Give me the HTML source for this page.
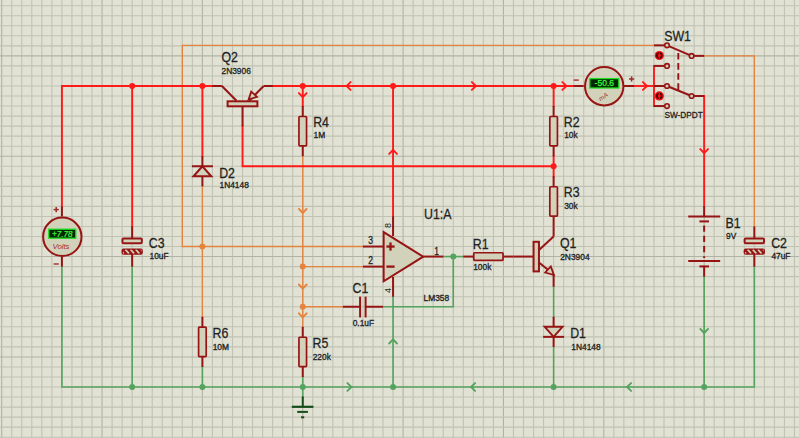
<!DOCTYPE html>
<html><head><meta charset="utf-8"><style>
html,body{margin:0;padding:0;background:#e1e2d4;overflow:hidden;}
svg{display:block;}
</style></head><body>
<svg width="799" height="438" viewBox="0 0 799 438">
<rect width="799" height="438" fill="#e1e2d4"/>
<line x1="1.7" y1="0" x2="1.7" y2="438" stroke="#b0b3a3" stroke-width="1.1"/>
<line x1="11.73" y1="0" x2="11.73" y2="438" stroke="#c0c2b4" stroke-width="1.1"/>
<line x1="21.77" y1="0" x2="21.77" y2="438" stroke="#c0c2b4" stroke-width="1.1"/>
<line x1="31.8" y1="0" x2="31.8" y2="438" stroke="#c0c2b4" stroke-width="1.1"/>
<line x1="41.84" y1="0" x2="41.84" y2="438" stroke="#c0c2b4" stroke-width="1.1"/>
<line x1="51.88" y1="0" x2="51.88" y2="438" stroke="#c0c2b4" stroke-width="1.1"/>
<line x1="61.91" y1="0" x2="61.91" y2="438" stroke="#c0c2b4" stroke-width="1.1"/>
<line x1="71.95" y1="0" x2="71.95" y2="438" stroke="#c0c2b4" stroke-width="1.1"/>
<line x1="81.98" y1="0" x2="81.98" y2="438" stroke="#c0c2b4" stroke-width="1.1"/>
<line x1="92.02" y1="0" x2="92.02" y2="438" stroke="#c0c2b4" stroke-width="1.1"/>
<line x1="102.05" y1="0" x2="102.05" y2="438" stroke="#b0b3a3" stroke-width="1.1"/>
<line x1="112.09" y1="0" x2="112.09" y2="438" stroke="#c0c2b4" stroke-width="1.1"/>
<line x1="122.12" y1="0" x2="122.12" y2="438" stroke="#c0c2b4" stroke-width="1.1"/>
<line x1="132.16" y1="0" x2="132.16" y2="438" stroke="#c0c2b4" stroke-width="1.1"/>
<line x1="142.19" y1="0" x2="142.19" y2="438" stroke="#c0c2b4" stroke-width="1.1"/>
<line x1="152.22" y1="0" x2="152.22" y2="438" stroke="#c0c2b4" stroke-width="1.1"/>
<line x1="162.26" y1="0" x2="162.26" y2="438" stroke="#c0c2b4" stroke-width="1.1"/>
<line x1="172.29" y1="0" x2="172.29" y2="438" stroke="#c0c2b4" stroke-width="1.1"/>
<line x1="182.33" y1="0" x2="182.33" y2="438" stroke="#c0c2b4" stroke-width="1.1"/>
<line x1="192.36" y1="0" x2="192.36" y2="438" stroke="#c0c2b4" stroke-width="1.1"/>
<line x1="202.4" y1="0" x2="202.4" y2="438" stroke="#b0b3a3" stroke-width="1.1"/>
<line x1="212.44" y1="0" x2="212.44" y2="438" stroke="#c0c2b4" stroke-width="1.1"/>
<line x1="222.47" y1="0" x2="222.47" y2="438" stroke="#c0c2b4" stroke-width="1.1"/>
<line x1="232.5" y1="0" x2="232.5" y2="438" stroke="#c0c2b4" stroke-width="1.1"/>
<line x1="242.54" y1="0" x2="242.54" y2="438" stroke="#c0c2b4" stroke-width="1.1"/>
<line x1="252.57" y1="0" x2="252.57" y2="438" stroke="#c0c2b4" stroke-width="1.1"/>
<line x1="262.61" y1="0" x2="262.61" y2="438" stroke="#c0c2b4" stroke-width="1.1"/>
<line x1="272.64" y1="0" x2="272.64" y2="438" stroke="#c0c2b4" stroke-width="1.1"/>
<line x1="282.68" y1="0" x2="282.68" y2="438" stroke="#c0c2b4" stroke-width="1.1"/>
<line x1="292.71" y1="0" x2="292.71" y2="438" stroke="#c0c2b4" stroke-width="1.1"/>
<line x1="302.75" y1="0" x2="302.75" y2="438" stroke="#b0b3a3" stroke-width="1.1"/>
<line x1="312.78" y1="0" x2="312.78" y2="438" stroke="#c0c2b4" stroke-width="1.1"/>
<line x1="322.82" y1="0" x2="322.82" y2="438" stroke="#c0c2b4" stroke-width="1.1"/>
<line x1="332.86" y1="0" x2="332.86" y2="438" stroke="#c0c2b4" stroke-width="1.1"/>
<line x1="342.89" y1="0" x2="342.89" y2="438" stroke="#c0c2b4" stroke-width="1.1"/>
<line x1="352.93" y1="0" x2="352.93" y2="438" stroke="#c0c2b4" stroke-width="1.1"/>
<line x1="362.96" y1="0" x2="362.96" y2="438" stroke="#c0c2b4" stroke-width="1.1"/>
<line x1="373" y1="0" x2="373" y2="438" stroke="#c0c2b4" stroke-width="1.1"/>
<line x1="383.03" y1="0" x2="383.03" y2="438" stroke="#c0c2b4" stroke-width="1.1"/>
<line x1="393.06" y1="0" x2="393.06" y2="438" stroke="#c0c2b4" stroke-width="1.1"/>
<line x1="403.1" y1="0" x2="403.1" y2="438" stroke="#b0b3a3" stroke-width="1.1"/>
<line x1="413.13" y1="0" x2="413.13" y2="438" stroke="#c0c2b4" stroke-width="1.1"/>
<line x1="423.17" y1="0" x2="423.17" y2="438" stroke="#c0c2b4" stroke-width="1.1"/>
<line x1="433.2" y1="0" x2="433.2" y2="438" stroke="#c0c2b4" stroke-width="1.1"/>
<line x1="443.24" y1="0" x2="443.24" y2="438" stroke="#c0c2b4" stroke-width="1.1"/>
<line x1="453.27" y1="0" x2="453.27" y2="438" stroke="#c0c2b4" stroke-width="1.1"/>
<line x1="463.31" y1="0" x2="463.31" y2="438" stroke="#c0c2b4" stroke-width="1.1"/>
<line x1="473.34" y1="0" x2="473.34" y2="438" stroke="#c0c2b4" stroke-width="1.1"/>
<line x1="483.38" y1="0" x2="483.38" y2="438" stroke="#c0c2b4" stroke-width="1.1"/>
<line x1="493.42" y1="0" x2="493.42" y2="438" stroke="#c0c2b4" stroke-width="1.1"/>
<line x1="503.45" y1="0" x2="503.45" y2="438" stroke="#b0b3a3" stroke-width="1.1"/>
<line x1="513.49" y1="0" x2="513.49" y2="438" stroke="#c0c2b4" stroke-width="1.1"/>
<line x1="523.52" y1="0" x2="523.52" y2="438" stroke="#c0c2b4" stroke-width="1.1"/>
<line x1="533.56" y1="0" x2="533.56" y2="438" stroke="#c0c2b4" stroke-width="1.1"/>
<line x1="543.59" y1="0" x2="543.59" y2="438" stroke="#c0c2b4" stroke-width="1.1"/>
<line x1="553.62" y1="0" x2="553.62" y2="438" stroke="#c0c2b4" stroke-width="1.1"/>
<line x1="563.66" y1="0" x2="563.66" y2="438" stroke="#c0c2b4" stroke-width="1.1"/>
<line x1="573.7" y1="0" x2="573.7" y2="438" stroke="#c0c2b4" stroke-width="1.1"/>
<line x1="583.73" y1="0" x2="583.73" y2="438" stroke="#c0c2b4" stroke-width="1.1"/>
<line x1="593.77" y1="0" x2="593.77" y2="438" stroke="#c0c2b4" stroke-width="1.1"/>
<line x1="603.8" y1="0" x2="603.8" y2="438" stroke="#b0b3a3" stroke-width="1.1"/>
<line x1="613.84" y1="0" x2="613.84" y2="438" stroke="#c0c2b4" stroke-width="1.1"/>
<line x1="623.87" y1="0" x2="623.87" y2="438" stroke="#c0c2b4" stroke-width="1.1"/>
<line x1="633.91" y1="0" x2="633.91" y2="438" stroke="#c0c2b4" stroke-width="1.1"/>
<line x1="643.94" y1="0" x2="643.94" y2="438" stroke="#c0c2b4" stroke-width="1.1"/>
<line x1="653.98" y1="0" x2="653.98" y2="438" stroke="#c0c2b4" stroke-width="1.1"/>
<line x1="664.01" y1="0" x2="664.01" y2="438" stroke="#c0c2b4" stroke-width="1.1"/>
<line x1="674.05" y1="0" x2="674.05" y2="438" stroke="#c0c2b4" stroke-width="1.1"/>
<line x1="684.08" y1="0" x2="684.08" y2="438" stroke="#c0c2b4" stroke-width="1.1"/>
<line x1="694.12" y1="0" x2="694.12" y2="438" stroke="#c0c2b4" stroke-width="1.1"/>
<line x1="704.15" y1="0" x2="704.15" y2="438" stroke="#b0b3a3" stroke-width="1.1"/>
<line x1="714.19" y1="0" x2="714.19" y2="438" stroke="#c0c2b4" stroke-width="1.1"/>
<line x1="724.22" y1="0" x2="724.22" y2="438" stroke="#c0c2b4" stroke-width="1.1"/>
<line x1="734.26" y1="0" x2="734.26" y2="438" stroke="#c0c2b4" stroke-width="1.1"/>
<line x1="744.29" y1="0" x2="744.29" y2="438" stroke="#c0c2b4" stroke-width="1.1"/>
<line x1="754.33" y1="0" x2="754.33" y2="438" stroke="#c0c2b4" stroke-width="1.1"/>
<line x1="764.36" y1="0" x2="764.36" y2="438" stroke="#c0c2b4" stroke-width="1.1"/>
<line x1="774.4" y1="0" x2="774.4" y2="438" stroke="#c0c2b4" stroke-width="1.1"/>
<line x1="784.43" y1="0" x2="784.43" y2="438" stroke="#c0c2b4" stroke-width="1.1"/>
<line x1="794.47" y1="0" x2="794.47" y2="438" stroke="#c0c2b4" stroke-width="1.1"/>
<line x1="0" y1="5.7" x2="799" y2="5.7" stroke="#c0c2b4" stroke-width="1.1"/>
<line x1="0" y1="15.73" x2="799" y2="15.73" stroke="#c0c2b4" stroke-width="1.1"/>
<line x1="0" y1="25.77" x2="799" y2="25.77" stroke="#c0c2b4" stroke-width="1.1"/>
<line x1="0" y1="35.8" x2="799" y2="35.8" stroke="#c0c2b4" stroke-width="1.1"/>
<line x1="0" y1="45.84" x2="799" y2="45.84" stroke="#c0c2b4" stroke-width="1.1"/>
<line x1="0" y1="55.88" x2="799" y2="55.88" stroke="#b0b3a3" stroke-width="1.1"/>
<line x1="0" y1="65.91" x2="799" y2="65.91" stroke="#c0c2b4" stroke-width="1.1"/>
<line x1="0" y1="75.95" x2="799" y2="75.95" stroke="#c0c2b4" stroke-width="1.1"/>
<line x1="0" y1="85.98" x2="799" y2="85.98" stroke="#c0c2b4" stroke-width="1.1"/>
<line x1="0" y1="96.02" x2="799" y2="96.02" stroke="#c0c2b4" stroke-width="1.1"/>
<line x1="0" y1="106.05" x2="799" y2="106.05" stroke="#c0c2b4" stroke-width="1.1"/>
<line x1="0" y1="116.09" x2="799" y2="116.09" stroke="#c0c2b4" stroke-width="1.1"/>
<line x1="0" y1="126.12" x2="799" y2="126.12" stroke="#c0c2b4" stroke-width="1.1"/>
<line x1="0" y1="136.16" x2="799" y2="136.16" stroke="#c0c2b4" stroke-width="1.1"/>
<line x1="0" y1="146.19" x2="799" y2="146.19" stroke="#c0c2b4" stroke-width="1.1"/>
<line x1="0" y1="156.22" x2="799" y2="156.22" stroke="#b0b3a3" stroke-width="1.1"/>
<line x1="0" y1="166.26" x2="799" y2="166.26" stroke="#c0c2b4" stroke-width="1.1"/>
<line x1="0" y1="176.29" x2="799" y2="176.29" stroke="#c0c2b4" stroke-width="1.1"/>
<line x1="0" y1="186.33" x2="799" y2="186.33" stroke="#c0c2b4" stroke-width="1.1"/>
<line x1="0" y1="196.36" x2="799" y2="196.36" stroke="#c0c2b4" stroke-width="1.1"/>
<line x1="0" y1="206.4" x2="799" y2="206.4" stroke="#c0c2b4" stroke-width="1.1"/>
<line x1="0" y1="216.44" x2="799" y2="216.44" stroke="#c0c2b4" stroke-width="1.1"/>
<line x1="0" y1="226.47" x2="799" y2="226.47" stroke="#c0c2b4" stroke-width="1.1"/>
<line x1="0" y1="236.5" x2="799" y2="236.5" stroke="#c0c2b4" stroke-width="1.1"/>
<line x1="0" y1="246.54" x2="799" y2="246.54" stroke="#c0c2b4" stroke-width="1.1"/>
<line x1="0" y1="256.57" x2="799" y2="256.57" stroke="#b0b3a3" stroke-width="1.1"/>
<line x1="0" y1="266.61" x2="799" y2="266.61" stroke="#c0c2b4" stroke-width="1.1"/>
<line x1="0" y1="276.64" x2="799" y2="276.64" stroke="#c0c2b4" stroke-width="1.1"/>
<line x1="0" y1="286.68" x2="799" y2="286.68" stroke="#c0c2b4" stroke-width="1.1"/>
<line x1="0" y1="296.71" x2="799" y2="296.71" stroke="#c0c2b4" stroke-width="1.1"/>
<line x1="0" y1="306.75" x2="799" y2="306.75" stroke="#c0c2b4" stroke-width="1.1"/>
<line x1="0" y1="316.78" x2="799" y2="316.78" stroke="#c0c2b4" stroke-width="1.1"/>
<line x1="0" y1="326.82" x2="799" y2="326.82" stroke="#c0c2b4" stroke-width="1.1"/>
<line x1="0" y1="336.86" x2="799" y2="336.86" stroke="#c0c2b4" stroke-width="1.1"/>
<line x1="0" y1="346.89" x2="799" y2="346.89" stroke="#c0c2b4" stroke-width="1.1"/>
<line x1="0" y1="356.93" x2="799" y2="356.93" stroke="#b0b3a3" stroke-width="1.1"/>
<line x1="0" y1="366.96" x2="799" y2="366.96" stroke="#c0c2b4" stroke-width="1.1"/>
<line x1="0" y1="377" x2="799" y2="377" stroke="#c0c2b4" stroke-width="1.1"/>
<line x1="0" y1="387.03" x2="799" y2="387.03" stroke="#c0c2b4" stroke-width="1.1"/>
<line x1="0" y1="397.06" x2="799" y2="397.06" stroke="#c0c2b4" stroke-width="1.1"/>
<line x1="0" y1="407.1" x2="799" y2="407.1" stroke="#c0c2b4" stroke-width="1.1"/>
<line x1="0" y1="417.13" x2="799" y2="417.13" stroke="#c0c2b4" stroke-width="1.1"/>
<line x1="0" y1="427.17" x2="799" y2="427.17" stroke="#c0c2b4" stroke-width="1.1"/>
<line x1="0" y1="437.2" x2="799" y2="437.2" stroke="#c0c2b4" stroke-width="1.1"/>
<polyline points="653.98,45.34 182.33,45.34 182.33,246.54 362.96,246.54" fill="none" stroke="#e3843f" stroke-width="1.35" stroke-linejoin="miter" stroke-linecap="square"/>
<polyline points="202.4,186.33 202.4,316.78" fill="none" stroke="#e3843f" stroke-width="1.35" stroke-linejoin="miter" stroke-linecap="square"/>
<polyline points="302.75,156.22 302.75,326.82" fill="none" stroke="#e3843f" stroke-width="1.35" stroke-linejoin="miter" stroke-linecap="square"/>
<polyline points="302.75,266.61 362.96,266.61" fill="none" stroke="#e3843f" stroke-width="1.35" stroke-linejoin="miter" stroke-linecap="square"/>
<polyline points="302.75,306.75 342.89,306.75" fill="none" stroke="#e3843f" stroke-width="1.35" stroke-linejoin="miter" stroke-linecap="square"/>
<polyline points="704.15,55.88 754.33,55.88 754.33,226.47" fill="none" stroke="#e3843f" stroke-width="1.35" stroke-linejoin="miter" stroke-linecap="square"/>
<polyline points="61.91,266.61 61.91,387.03 754.33,387.03 754.33,266.61" fill="none" stroke="#54a35f" stroke-width="1.6" stroke-linejoin="miter" stroke-linecap="square"/>
<polyline points="132.16,266.61 132.16,387.03" fill="none" stroke="#54a35f" stroke-width="1.6" stroke-linejoin="miter" stroke-linecap="square"/>
<polyline points="202.4,366.96 202.4,387.03" fill="none" stroke="#54a35f" stroke-width="1.6" stroke-linejoin="miter" stroke-linecap="square"/>
<polyline points="302.75,377 302.75,397.06" fill="none" stroke="#54a35f" stroke-width="1.6" stroke-linejoin="miter" stroke-linecap="square"/>
<polyline points="393.06,296.71 393.06,387.03" fill="none" stroke="#54a35f" stroke-width="1.6" stroke-linejoin="miter" stroke-linecap="square"/>
<polyline points="383.03,306.75 453.27,306.75 453.27,256.57" fill="none" stroke="#54a35f" stroke-width="1.6" stroke-linejoin="miter" stroke-linecap="square"/>
<polyline points="443.24,256.57 463.31,256.57" fill="none" stroke="#54a35f" stroke-width="1.6" stroke-linejoin="miter" stroke-linecap="square"/>
<polyline points="553.62,286.68 553.62,316.78" fill="none" stroke="#54a35f" stroke-width="1.6" stroke-linejoin="miter" stroke-linecap="square"/>
<polyline points="553.62,346.89 553.62,387.03" fill="none" stroke="#54a35f" stroke-width="1.6" stroke-linejoin="miter" stroke-linecap="square"/>
<polyline points="704.15,276.64 704.15,387.03" fill="none" stroke="#54a35f" stroke-width="1.6" stroke-linejoin="miter" stroke-linecap="square"/>
<polyline points="61.91,206.4 61.91,85.98 212.44,85.98" fill="none" stroke="#ff1a1a" stroke-width="1.9" stroke-linejoin="miter" stroke-linecap="square"/>
<polyline points="132.16,85.98 132.16,226.47" fill="none" stroke="#ff1a1a" stroke-width="1.9" stroke-linejoin="miter" stroke-linecap="square"/>
<polyline points="202.4,85.98 202.4,156.22" fill="none" stroke="#ff1a1a" stroke-width="1.9" stroke-linejoin="miter" stroke-linecap="square"/>
<polyline points="272.64,85.98 573.7,85.98" fill="none" stroke="#ff1a1a" stroke-width="1.9" stroke-linejoin="miter" stroke-linecap="square"/>
<polyline points="302.75,85.98 302.75,106.05" fill="none" stroke="#ff1a1a" stroke-width="1.9" stroke-linejoin="miter" stroke-linecap="square"/>
<polyline points="393.06,85.98 393.06,216.44" fill="none" stroke="#ff1a1a" stroke-width="1.9" stroke-linejoin="miter" stroke-linecap="square"/>
<polyline points="553.62,85.98 553.62,106.05" fill="none" stroke="#ff1a1a" stroke-width="1.9" stroke-linejoin="miter" stroke-linecap="square"/>
<polyline points="242.54,126.12 242.54,166.26 553.62,166.26" fill="none" stroke="#ff1a1a" stroke-width="1.9" stroke-linejoin="miter" stroke-linecap="square"/>
<polyline points="553.62,156.22 553.62,176.29" fill="none" stroke="#ff1a1a" stroke-width="1.9" stroke-linejoin="miter" stroke-linecap="square"/>
<polyline points="633.91,85.98 653.98,85.98" fill="none" stroke="#ff1a1a" stroke-width="1.9" stroke-linejoin="miter" stroke-linecap="square"/>
<polyline points="653.98,65.91 653.98,106.05" fill="none" stroke="#ff1a1a" stroke-width="1.9" stroke-linejoin="miter" stroke-linecap="square"/>
<polyline points="704.15,96.02 704.15,206.4" fill="none" stroke="#ff1a1a" stroke-width="1.9" stroke-linejoin="miter" stroke-linecap="square"/>
<circle cx="132.16" cy="85.98" r="3.0" fill="#ff1a1a"/>
<circle cx="202.4" cy="85.98" r="3.0" fill="#ff1a1a"/>
<circle cx="302.75" cy="85.98" r="3.0" fill="#ff1a1a"/>
<circle cx="393.06" cy="85.98" r="3.0" fill="#ff1a1a"/>
<circle cx="553.62" cy="85.98" r="3.0" fill="#ff1a1a"/>
<circle cx="553.62" cy="166.26" r="3.0" fill="#ff1a1a"/>
<circle cx="202.4" cy="246.54" r="3.0" fill="#e3843f"/>
<circle cx="302.75" cy="266.61" r="3.0" fill="#e3843f"/>
<circle cx="302.75" cy="306.75" r="3.0" fill="#e3843f"/>
<circle cx="132.16" cy="387.03" r="3.0" fill="#54a35f"/>
<circle cx="202.4" cy="387.03" r="3.0" fill="#54a35f"/>
<circle cx="302.75" cy="387.03" r="3.0" fill="#54a35f"/>
<circle cx="393.06" cy="387.03" r="3.0" fill="#54a35f"/>
<circle cx="553.62" cy="387.03" r="3.0" fill="#54a35f"/>
<circle cx="704.15" cy="387.03" r="3.0" fill="#54a35f"/>
<circle cx="453.27" cy="256.57" r="3.0" fill="#54a35f"/>
<polyline points="350.6,82.09 346.5,85.98 350.6,89.88" fill="none" stroke="#ff1a1a" stroke-width="1.9" stroke-linecap="round"/>
<polyline points="471.9,82.09 476,85.98 471.9,89.88" fill="none" stroke="#ff1a1a" stroke-width="1.9" stroke-linecap="round"/>
<polyline points="562.4,82.09 566.5,85.98 562.4,89.88" fill="none" stroke="#ff1a1a" stroke-width="1.9" stroke-linecap="round"/>
<polyline points="642.9,82.09 647,85.98 642.9,89.88" fill="none" stroke="#ff1a1a" stroke-width="1.9" stroke-linecap="round"/>
<polyline points="298.86,93.1 302.75,97.2 306.64,93.1" fill="none" stroke="#ff1a1a" stroke-width="1.9" stroke-linecap="round"/>
<polyline points="389.17,153.9 393.06,149.8 396.96,153.9" fill="none" stroke="#ff1a1a" stroke-width="1.9" stroke-linecap="round"/>
<polyline points="700.26,149.1 704.15,153.2 708.05,149.1" fill="none" stroke="#ff1a1a" stroke-width="1.9" stroke-linecap="round"/>
<polyline points="298.86,208.9 302.75,213 306.64,208.9" fill="none" stroke="#e3843f" stroke-width="1.9" stroke-linecap="round"/>
<polyline points="298.86,284.5 302.75,288.6 306.64,284.5" fill="none" stroke="#e3843f" stroke-width="1.9" stroke-linecap="round"/>
<polyline points="298.86,313.3 302.75,317.4 306.64,313.3" fill="none" stroke="#e3843f" stroke-width="1.9" stroke-linecap="round"/>
<polyline points="700.26,328.9 704.15,333 708.05,328.9" fill="none" stroke="#54a35f" stroke-width="1.9" stroke-linecap="round"/>
<polyline points="631.1,383.13 627,387.03 631.1,390.92" fill="none" stroke="#54a35f" stroke-width="1.9" stroke-linecap="round"/>
<polyline points="475.1,383.13 471,387.03 475.1,390.92" fill="none" stroke="#54a35f" stroke-width="1.9" stroke-linecap="round"/>
<polyline points="347.4,383.13 351.5,387.03 347.4,390.92" fill="none" stroke="#54a35f" stroke-width="1.9" stroke-linecap="round"/>
<polyline points="389.17,343.5 393.06,339.4 396.96,343.5" fill="none" stroke="#54a35f" stroke-width="1.9" stroke-linecap="round"/>
<line x1="302.75" y1="106.05" x2="302.75" y2="116.09" stroke="#961414" stroke-width="2"/>
<line x1="302.75" y1="146.19" x2="302.75" y2="156.22" stroke="#961414" stroke-width="2"/>
<rect x="298.95" y="116.49" width="7.6" height="29.3" rx="0.8" fill="#d2d2ba" stroke="#961414" stroke-width="1.7"/>
<line x1="553.62" y1="106.05" x2="553.62" y2="116.09" stroke="#961414" stroke-width="2"/>
<line x1="553.62" y1="146.19" x2="553.62" y2="156.22" stroke="#961414" stroke-width="2"/>
<rect x="549.83" y="116.49" width="7.6" height="29.3" rx="0.8" fill="#d2d2ba" stroke="#961414" stroke-width="1.7"/>
<line x1="553.62" y1="176.29" x2="553.62" y2="186.33" stroke="#961414" stroke-width="2"/>
<line x1="553.62" y1="216.44" x2="553.62" y2="226.47" stroke="#961414" stroke-width="2"/>
<rect x="549.83" y="186.73" width="7.6" height="29.31" rx="0.8" fill="#d2d2ba" stroke="#961414" stroke-width="1.7"/>
<line x1="202.4" y1="316.78" x2="202.4" y2="326.82" stroke="#961414" stroke-width="2"/>
<line x1="202.4" y1="356.93" x2="202.4" y2="366.96" stroke="#961414" stroke-width="2"/>
<rect x="198.6" y="327.22" width="7.6" height="29.31" rx="0.8" fill="#d2d2ba" stroke="#961414" stroke-width="1.7"/>
<line x1="302.75" y1="326.82" x2="302.75" y2="336.86" stroke="#961414" stroke-width="2"/>
<line x1="302.75" y1="366.96" x2="302.75" y2="377" stroke="#961414" stroke-width="2"/>
<rect x="298.95" y="337.25" width="7.6" height="29.3" rx="0.8" fill="#d2d2ba" stroke="#961414" stroke-width="1.7"/>
<line x1="463.31" y1="256.57" x2="473.34" y2="256.57" stroke="#961414" stroke-width="2"/>
<line x1="503.45" y1="256.57" x2="513.49" y2="256.57" stroke="#961414" stroke-width="2"/>
<rect x="473.74" y="252.77" width="29.31" height="7.6" rx="0.8" fill="#d2d2ba" stroke="#961414" stroke-width="1.7"/>
<line x1="132.16" y1="226.47" x2="132.16" y2="238.5" stroke="#961414" stroke-width="2"/>
<line x1="132.16" y1="253.5" x2="132.16" y2="266.61" stroke="#961414" stroke-width="2"/>
<rect x="122.45" y="238.4" width="19.4" height="4.8" rx="1.2" fill="#d2d2ba" stroke="#961414" stroke-width="2"/>
<rect x="122.45" y="249.5" width="19.4" height="4.3" rx="1.2" fill="#961414" stroke="#961414" stroke-width="2"/>
<clipPath id="cp13"><rect x="122.95" y="249.6" width="18.4" height="4.1"/></clipPath>
<line x1="120.16" y1="249.4" x2="123.75" y2="253.6" stroke="#d2d2ba" stroke-width="1.7" clip-path="url(#cp13)"/>
<line x1="125.36" y1="249.4" x2="128.96" y2="253.6" stroke="#d2d2ba" stroke-width="1.7" clip-path="url(#cp13)"/>
<line x1="130.56" y1="249.4" x2="134.16" y2="253.6" stroke="#d2d2ba" stroke-width="1.7" clip-path="url(#cp13)"/>
<line x1="135.75" y1="249.4" x2="139.35" y2="253.6" stroke="#d2d2ba" stroke-width="1.7" clip-path="url(#cp13)"/>
<line x1="140.96" y1="249.4" x2="144.56" y2="253.6" stroke="#d2d2ba" stroke-width="1.7" clip-path="url(#cp13)"/>
<line x1="754.33" y1="226.47" x2="754.33" y2="238.5" stroke="#961414" stroke-width="2"/>
<line x1="754.33" y1="253.5" x2="754.33" y2="266.61" stroke="#961414" stroke-width="2"/>
<rect x="744.62" y="238.4" width="19.4" height="4.8" rx="1.2" fill="#d2d2ba" stroke="#961414" stroke-width="2"/>
<rect x="744.62" y="249.5" width="19.4" height="4.3" rx="1.2" fill="#961414" stroke="#961414" stroke-width="2"/>
<clipPath id="cp75"><rect x="745.12" y="249.6" width="18.4" height="4.1"/></clipPath>
<line x1="742.33" y1="249.4" x2="745.93" y2="253.6" stroke="#d2d2ba" stroke-width="1.7" clip-path="url(#cp75)"/>
<line x1="747.53" y1="249.4" x2="751.13" y2="253.6" stroke="#d2d2ba" stroke-width="1.7" clip-path="url(#cp75)"/>
<line x1="752.73" y1="249.4" x2="756.33" y2="253.6" stroke="#d2d2ba" stroke-width="1.7" clip-path="url(#cp75)"/>
<line x1="757.93" y1="249.4" x2="761.53" y2="253.6" stroke="#d2d2ba" stroke-width="1.7" clip-path="url(#cp75)"/>
<line x1="763.12" y1="249.4" x2="766.73" y2="253.6" stroke="#d2d2ba" stroke-width="1.7" clip-path="url(#cp75)"/>
<line x1="342.89" y1="306.75" x2="360.1" y2="306.75" stroke="#961414" stroke-width="2"/>
<line x1="365.6" y1="306.75" x2="383.03" y2="306.75" stroke="#961414" stroke-width="2"/>
<line x1="360.1" y1="296.6" x2="360.1" y2="317.4" stroke="#961414" stroke-width="2"/>
<line x1="365.6" y1="296.6" x2="365.6" y2="317.4" stroke="#961414" stroke-width="2"/>
<line x1="202.4" y1="156.22" x2="202.4" y2="166.26" stroke="#961414" stroke-width="2"/>
<line x1="202.4" y1="176.29" x2="202.4" y2="186.33" stroke="#961414" stroke-width="2"/>
<polygon points="202.4,166.26 193.5,176.29 211.3,176.29" fill="#d2d2ba" stroke="#961414" stroke-width="2" stroke-linejoin="miter"/>
<line x1="191.9" y1="166.26" x2="212.9" y2="166.26" stroke="#961414" stroke-width="2"/>
<line x1="553.62" y1="316.78" x2="553.62" y2="326.82" stroke="#961414" stroke-width="2"/>
<line x1="553.62" y1="336.86" x2="553.62" y2="346.89" stroke="#961414" stroke-width="2"/>
<polygon points="544.73,326.82 562.52,326.82 553.62,336.86" fill="#d2d2ba" stroke="#961414" stroke-width="2" stroke-linejoin="miter"/>
<line x1="543.12" y1="336.86" x2="564.12" y2="336.86" stroke="#961414" stroke-width="2"/>
<line x1="212.44" y1="85.98" x2="221.9" y2="85.98" stroke="#961414" stroke-width="2"/>
<line x1="221.9" y1="85.98" x2="236.5" y2="100.8" stroke="#961414" stroke-width="2"/>
<line x1="272.64" y1="85.98" x2="263.7" y2="85.98" stroke="#961414" stroke-width="2"/>
<line x1="263.7" y1="85.98" x2="249" y2="100.8" stroke="#961414" stroke-width="2"/>
<polygon points="248.6,99.6 251.2,91.6 257,96.8" fill="#d2d2ba" stroke="#961414" stroke-width="1.8" stroke-linejoin="miter"/>
<rect x="227.6" y="101.3" width="29.8" height="5" fill="#d2d2ba" stroke="#961414" stroke-width="2"/>
<line x1="242.54" y1="106.3" x2="242.54" y2="126.12" stroke="#961414" stroke-width="2"/>
<rect x="533.56" y="241.8" width="5.4" height="29.6" fill="#d2d2ba" stroke="#961414" stroke-width="2"/>
<line x1="513.49" y1="256.57" x2="533.56" y2="256.57" stroke="#961414" stroke-width="2"/>
<line x1="539" y1="250" x2="553.62" y2="236.5" stroke="#961414" stroke-width="2"/>
<line x1="553.62" y1="236.5" x2="553.62" y2="226.47" stroke="#961414" stroke-width="2"/>
<line x1="539" y1="262.4" x2="549.5" y2="271" stroke="#961414" stroke-width="2"/>
<polygon points="553.9,275 545.2,272.5 550.8,266.4" fill="#d2d2ba" stroke="#961414" stroke-width="1.8" stroke-linejoin="miter"/>
<line x1="553.62" y1="274.5" x2="553.62" y2="286.68" stroke="#961414" stroke-width="2"/>
<polygon points="383.63,232.09 383.63,281.26 423.17,256.68" fill="#d2d2ba" stroke="#961414" stroke-width="2" stroke-linejoin="miter"/>
<line x1="362.96" y1="246.54" x2="383.03" y2="246.54" stroke="#961414" stroke-width="2"/>
<line x1="362.96" y1="266.61" x2="383.03" y2="266.61" stroke="#961414" stroke-width="2"/>
<line x1="423.17" y1="256.57" x2="443.24" y2="256.57" stroke="#961414" stroke-width="2"/>
<line x1="393.06" y1="216.44" x2="393.06" y2="236" stroke="#961414" stroke-width="2"/>
<line x1="393.06" y1="277" x2="393.06" y2="296.71" stroke="#961414" stroke-width="2"/>
<line x1="386.4" y1="246.54" x2="394.6" y2="246.54" stroke="#961414" stroke-width="2.3"/>
<line x1="390.5" y1="242.44" x2="390.5" y2="250.64" stroke="#961414" stroke-width="2.3"/>
<line x1="386.4" y1="266.61" x2="394.6" y2="266.61" stroke="#961414" stroke-width="2.3"/>
<line x1="302.75" y1="396.46" x2="302.75" y2="407.1" stroke="#134d17" stroke-width="2"/>
<line x1="291.8" y1="406.8" x2="313.4" y2="406.8" stroke="#134d17" stroke-width="2.2"/>
<line x1="297.2" y1="411.9" x2="307.9" y2="411.9" stroke="#134d17" stroke-width="2"/>
<line x1="301" y1="417.3" x2="304.2" y2="417.3" stroke="#134d17" stroke-width="2"/>
<line x1="704.15" y1="206.4" x2="704.15" y2="216.44" stroke="#961414" stroke-width="2"/>
<line x1="688.2" y1="216.44" x2="720.2" y2="216.44" stroke="#961414" stroke-width="2"/>
<line x1="699.4" y1="221.4" x2="709" y2="221.4" stroke="#961414" stroke-width="2"/>
<line x1="704.15" y1="225.6" x2="704.15" y2="258" stroke="#961414" stroke-width="2" stroke-dasharray="6.2,4"/>
<line x1="688.2" y1="261" x2="720.2" y2="261" stroke="#961414" stroke-width="2"/>
<line x1="699.4" y1="266.4" x2="709" y2="266.4" stroke="#961414" stroke-width="2"/>
<line x1="704.15" y1="266.4" x2="704.15" y2="276.64" stroke="#961414" stroke-width="2"/>
<line x1="61.91" y1="206.4" x2="61.91" y2="216.44" stroke="#961414" stroke-width="2"/>
<line x1="61.91" y1="256.57" x2="61.91" y2="266.61" stroke="#961414" stroke-width="2"/>
<circle cx="62.31" cy="236.81" r="19.2" fill="#d2d2ba" stroke="#961414" stroke-width="2"/>
<rect x="48.8" y="229.2" width="27" height="9" fill="#032703" stroke="#1ee01e" stroke-width="1.3"/>
<text x="62.3" y="236.6" font-family="Liberation Sans" font-size="9" font-style="italic" fill="#3cff3c" stroke="#3cff3c" stroke-width="0.2" text-anchor="middle" textLength="20.5" lengthAdjust="spacingAndGlyphs">+7.78</text>
<text x="61" y="248.6" font-family="Liberation Sans" font-size="7.8" font-style="italic" fill="#a82a2a" text-anchor="middle">Volts</text>
<line x1="53.6" y1="209.6" x2="58.8" y2="209.6" stroke="#a02828" stroke-width="1.5"/>
<line x1="56.2" y1="207" x2="56.2" y2="212.2" stroke="#a02828" stroke-width="1.5"/>
<line x1="53.6" y1="264" x2="58.8" y2="264" stroke="#a83838" stroke-width="1.5"/>
<line x1="573.7" y1="85.98" x2="583.73" y2="85.98" stroke="#961414" stroke-width="2"/>
<line x1="623.87" y1="85.98" x2="633.91" y2="85.98" stroke="#961414" stroke-width="2"/>
<circle cx="604.2" cy="86.18" r="19.2" fill="#d2d2ba" stroke="#961414" stroke-width="2"/>
<rect x="589.8" y="78.6" width="29" height="9.4" fill="#032703" stroke="#1ee01e" stroke-width="1.3"/>
<text x="604.3" y="86.4" font-family="Liberation Sans" font-size="9.4" fill="#3cff3c" stroke="#3cff3c" stroke-width="0.25" text-anchor="middle" textLength="19.5" lengthAdjust="spacingAndGlyphs">-50.6</text>
<text x="0" y="0" font-family="Liberation Sans" font-size="6.5" font-style="italic" fill="#a04040" text-anchor="middle" transform="translate(604.5,98.5) rotate(-35)">mA</text>
<line x1="573.6" y1="80.1" x2="578.8" y2="80.1" stroke="#a83838" stroke-width="1.5"/>
<line x1="629" y1="79" x2="634.2" y2="79" stroke="#a02828" stroke-width="1.5"/>
<line x1="631.6" y1="76.4" x2="631.6" y2="81.6" stroke="#a02828" stroke-width="1.5"/>
<line x1="653.98" y1="45.34" x2="667" y2="45.34" stroke="#961414" stroke-width="2"/>
<line x1="653.98" y1="65.91" x2="667" y2="65.91" stroke="#961414" stroke-width="2"/>
<line x1="653.98" y1="85.98" x2="667" y2="85.98" stroke="#961414" stroke-width="2"/>
<line x1="653.98" y1="106.05" x2="667" y2="106.05" stroke="#961414" stroke-width="2"/>
<line x1="667" y1="45.34" x2="691.6" y2="55.88" stroke="#961414" stroke-width="2"/>
<line x1="667" y1="85.98" x2="691.6" y2="96.02" stroke="#961414" stroke-width="2"/>
<line x1="691.6" y1="55.88" x2="704.15" y2="55.88" stroke="#961414" stroke-width="2"/>
<line x1="691.6" y1="96.02" x2="704.15" y2="96.02" stroke="#961414" stroke-width="2"/>
<line x1="678.3" y1="53" x2="678.3" y2="90" stroke="#961414" stroke-width="1.9" stroke-dasharray="6.6,3.5"/>
<circle cx="667" cy="45.34" r="2.3" fill="#d2d2ba" stroke="#961414" stroke-width="1.6"/>
<circle cx="667" cy="65.91" r="2.3" fill="#d2d2ba" stroke="#961414" stroke-width="1.6"/>
<circle cx="667" cy="85.98" r="2.3" fill="#d2d2ba" stroke="#961414" stroke-width="1.6"/>
<circle cx="667" cy="106.05" r="2.3" fill="#d2d2ba" stroke="#961414" stroke-width="1.6"/>
<circle cx="691.6" cy="55.88" r="2.3" fill="#d2d2ba" stroke="#961414" stroke-width="1.6"/>
<circle cx="691.6" cy="96.02" r="2.3" fill="#d2d2ba" stroke="#961414" stroke-width="1.6"/>
<circle cx="659.3" cy="55.5" r="4.6" fill="#f01212"/>
<circle cx="659.3" cy="55.5" r="2.4" fill="none" stroke="#3a0000" stroke-width="1.5"/>
<line x1="659.3" y1="52.5" x2="659.3" y2="58.5" stroke="#f01212" stroke-width="1.4"/>
<circle cx="659.3" cy="95.9" r="4.6" fill="#f01212"/>
<circle cx="659.3" cy="95.9" r="2.4" fill="none" stroke="#3a0000" stroke-width="1.5"/>
<line x1="659.3" y1="92.9" x2="659.3" y2="98.9" stroke="#f01212" stroke-width="1.4"/>
<text transform="translate(221.5,62.2) scale(0.87,1)" font-family="Liberation Sans" font-size="14.2" fill="#222222" stroke="#222222" stroke-width="0.25">Q2</text>
<text transform="translate(221.5,73.8) scale(1.0,1)" font-family="Liberation Sans" font-size="8.4" fill="#222222" stroke="#222222" stroke-width="0.3">2N3906</text>
<text transform="translate(219.2,177.6) scale(0.87,1)" font-family="Liberation Sans" font-size="14.2" fill="#222222" stroke="#222222" stroke-width="0.25">D2</text>
<text transform="translate(219.5,188.4) scale(1.0,1)" font-family="Liberation Sans" font-size="8.4" fill="#222222" stroke="#222222" stroke-width="0.3">1N4148</text>
<text transform="translate(313.2,127.2) scale(0.87,1)" font-family="Liberation Sans" font-size="14.2" fill="#222222" stroke="#222222" stroke-width="0.25">R4</text>
<text transform="translate(313.5,138.2) scale(1.0,1)" font-family="Liberation Sans" font-size="8.4" fill="#222222" stroke="#222222" stroke-width="0.3">1M</text>
<text transform="translate(148.8,247.5) scale(0.87,1)" font-family="Liberation Sans" font-size="14.2" fill="#222222" stroke="#222222" stroke-width="0.25">C3</text>
<text transform="translate(149.5,259.4) scale(1.0,1)" font-family="Liberation Sans" font-size="8.4" fill="#222222" stroke="#222222" stroke-width="0.3">10uF</text>
<text transform="translate(212.5,337.7) scale(0.87,1)" font-family="Liberation Sans" font-size="14.2" fill="#222222" stroke="#222222" stroke-width="0.25">R6</text>
<text transform="translate(212.7,349.8) scale(1.0,1)" font-family="Liberation Sans" font-size="8.4" fill="#222222" stroke="#222222" stroke-width="0.3">10M</text>
<text transform="translate(312.5,347.8) scale(0.87,1)" font-family="Liberation Sans" font-size="14.2" fill="#222222" stroke="#222222" stroke-width="0.25">R5</text>
<text transform="translate(312.7,359.8) scale(1.0,1)" font-family="Liberation Sans" font-size="8.4" fill="#222222" stroke="#222222" stroke-width="0.3">220k</text>
<text transform="translate(352.6,293.3) scale(0.87,1)" font-family="Liberation Sans" font-size="14.2" fill="#222222" stroke="#222222" stroke-width="0.25">C1</text>
<text transform="translate(352.7,326.4) scale(1.0,1)" font-family="Liberation Sans" font-size="8.4" fill="#222222" stroke="#222222" stroke-width="0.3">0.1uF</text>
<text transform="translate(424,218.6) scale(0.87,1)" font-family="Liberation Sans" font-size="14.2" fill="#222222" stroke="#222222" stroke-width="0.25">U1:A</text>
<text transform="translate(423.5,300.8) scale(1.0,1)" font-family="Liberation Sans" font-size="8.4" fill="#222222" stroke="#222222" stroke-width="0.3">LM358</text>
<text transform="translate(472.8,249) scale(0.87,1)" font-family="Liberation Sans" font-size="14.2" fill="#222222" stroke="#222222" stroke-width="0.25">R1</text>
<text transform="translate(473.2,270.2) scale(1.0,1)" font-family="Liberation Sans" font-size="8.4" fill="#222222" stroke="#222222" stroke-width="0.3">100k</text>
<text transform="translate(559.9,247.6) scale(0.87,1)" font-family="Liberation Sans" font-size="14.2" fill="#222222" stroke="#222222" stroke-width="0.25">Q1</text>
<text transform="translate(560.2,259.8) scale(1.0,1)" font-family="Liberation Sans" font-size="8.4" fill="#222222" stroke="#222222" stroke-width="0.3">2N3904</text>
<text transform="translate(563.8,127.3) scale(0.87,1)" font-family="Liberation Sans" font-size="14.2" fill="#222222" stroke="#222222" stroke-width="0.25">R2</text>
<text transform="translate(564.2,138.4) scale(1.0,1)" font-family="Liberation Sans" font-size="8.4" fill="#222222" stroke="#222222" stroke-width="0.3">10k</text>
<text transform="translate(563.8,196.9) scale(0.87,1)" font-family="Liberation Sans" font-size="14.2" fill="#222222" stroke="#222222" stroke-width="0.25">R3</text>
<text transform="translate(564.2,208.8) scale(1.0,1)" font-family="Liberation Sans" font-size="8.4" fill="#222222" stroke="#222222" stroke-width="0.3">30k</text>
<text transform="translate(570.2,337.6) scale(0.87,1)" font-family="Liberation Sans" font-size="14.2" fill="#222222" stroke="#222222" stroke-width="0.25">D1</text>
<text transform="translate(571.3,350) scale(1.0,1)" font-family="Liberation Sans" font-size="8.4" fill="#222222" stroke="#222222" stroke-width="0.3">1N4148</text>
<text transform="translate(725.4,228) scale(0.87,1)" font-family="Liberation Sans" font-size="14.2" fill="#222222" stroke="#222222" stroke-width="0.25">B1</text>
<text transform="translate(726,238.8) scale(1.0,1)" font-family="Liberation Sans" font-size="8.4" fill="#222222" stroke="#222222" stroke-width="0.3">9V</text>
<text transform="translate(771.2,248.2) scale(0.87,1)" font-family="Liberation Sans" font-size="14.2" fill="#222222" stroke="#222222" stroke-width="0.25">C2</text>
<text transform="translate(771.4,259.4) scale(1.0,1)" font-family="Liberation Sans" font-size="8.4" fill="#222222" stroke="#222222" stroke-width="0.3">47uF</text>
<text transform="translate(664.2,41) scale(0.87,1)" font-family="Liberation Sans" font-size="14.2" fill="#222222" stroke="#222222" stroke-width="0.25">SW1</text>
<text transform="translate(664.4,118.3) scale(0.86,1)" font-family="Liberation Sans" font-size="9.6" fill="#222222" stroke="#222222" stroke-width="0.3">SW-DPDT</text>
<text transform="translate(368.2,244.4) scale(0.85,1)" font-family="Liberation Sans" font-size="10" fill="#222222" stroke="#222222" stroke-width="0.3">3</text>
<text transform="translate(368.2,264.4) scale(0.85,1)" font-family="Liberation Sans" font-size="10" fill="#222222" stroke="#222222" stroke-width="0.3">2</text>
<text transform="translate(434.2,254.6) scale(0.85,1)" font-family="Liberation Sans" font-size="10" fill="#222222" stroke="#222222" stroke-width="0.3">1</text>
<text x="0" y="0" font-family="Liberation Sans" font-size="9" fill="#222222" transform="translate(391.2,228) rotate(-90)">8</text>
<text x="0" y="0" font-family="Liberation Sans" font-size="9" fill="#222222" transform="translate(391.2,293) rotate(-90)">4</text>
</svg>
</body></html>
